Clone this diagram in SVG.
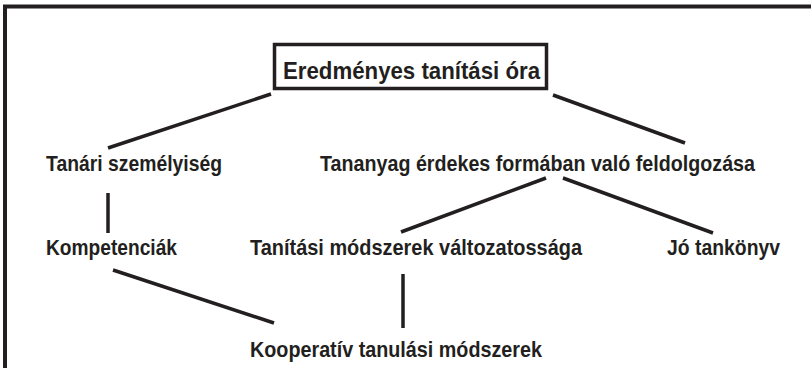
<svg xmlns="http://www.w3.org/2000/svg" width="811" height="368" viewBox="0 0 811 368">
<style>
.frame{fill:none;stroke:#231f20;stroke-width:4}
.box{fill:#fff;stroke:#231f20;stroke-width:3.5}
.lbl{font-family:"Liberation Sans",Arial,sans-serif;font-weight:bold;font-size:21.5px;fill:#231f20}
.title{font-size:24px}
.con line{stroke:#231f20;stroke-width:3.5;stroke-linecap:butt}
</style>
<rect width="811" height="368" fill="#fff"/>
<rect class="frame" x="5" y="6.5" width="830" height="380"/>
<g class="con" id="connectors">
<line x1="271" y1="94" x2="108" y2="148"/>
<line x1="553" y1="95" x2="685" y2="143"/>
<line x1="108" y1="193" x2="108" y2="233"/>
<line x1="546" y1="178" x2="401" y2="232"/>
<line x1="563" y1="178" x2="713" y2="233"/>
<line x1="113" y1="270" x2="274" y2="323"/>
<line x1="403" y1="274" x2="403" y2="328"/>
</g>
<g id="n-title">
<rect class="box" x="274.5" y="44.5" width="272" height="44"/>
<text class="lbl title" x="283" y="78.5" textLength="257" lengthAdjust="spacingAndGlyphs">Eredményes tanítási óra</text>
</g>
<g id="n-tanari"><text class="lbl" x="46" y="170.5" textLength="176" lengthAdjust="spacingAndGlyphs">Tanári személyiség</text></g>
<g id="n-tananyag"><text class="lbl" x="320" y="170.5" textLength="435" lengthAdjust="spacingAndGlyphs">Tananyag érdekes formában való feldolgozása</text></g>
<g id="n-kompetenciak"><text class="lbl" x="46" y="254.5" textLength="131" lengthAdjust="spacingAndGlyphs">Kompetenciák</text></g>
<g id="n-modszerek"><text class="lbl" x="250" y="254.5" textLength="332" lengthAdjust="spacingAndGlyphs">Tanítási módszerek változatossága</text></g>
<g id="n-tankonyv"><text class="lbl" x="667" y="254.5" textLength="113" lengthAdjust="spacingAndGlyphs">Jó tankönyv</text></g>
<g id="n-kooperativ"><text class="lbl" x="250" y="356.5" textLength="292" lengthAdjust="spacingAndGlyphs">Kooperatív tanulási módszerek</text></g>
</svg>
